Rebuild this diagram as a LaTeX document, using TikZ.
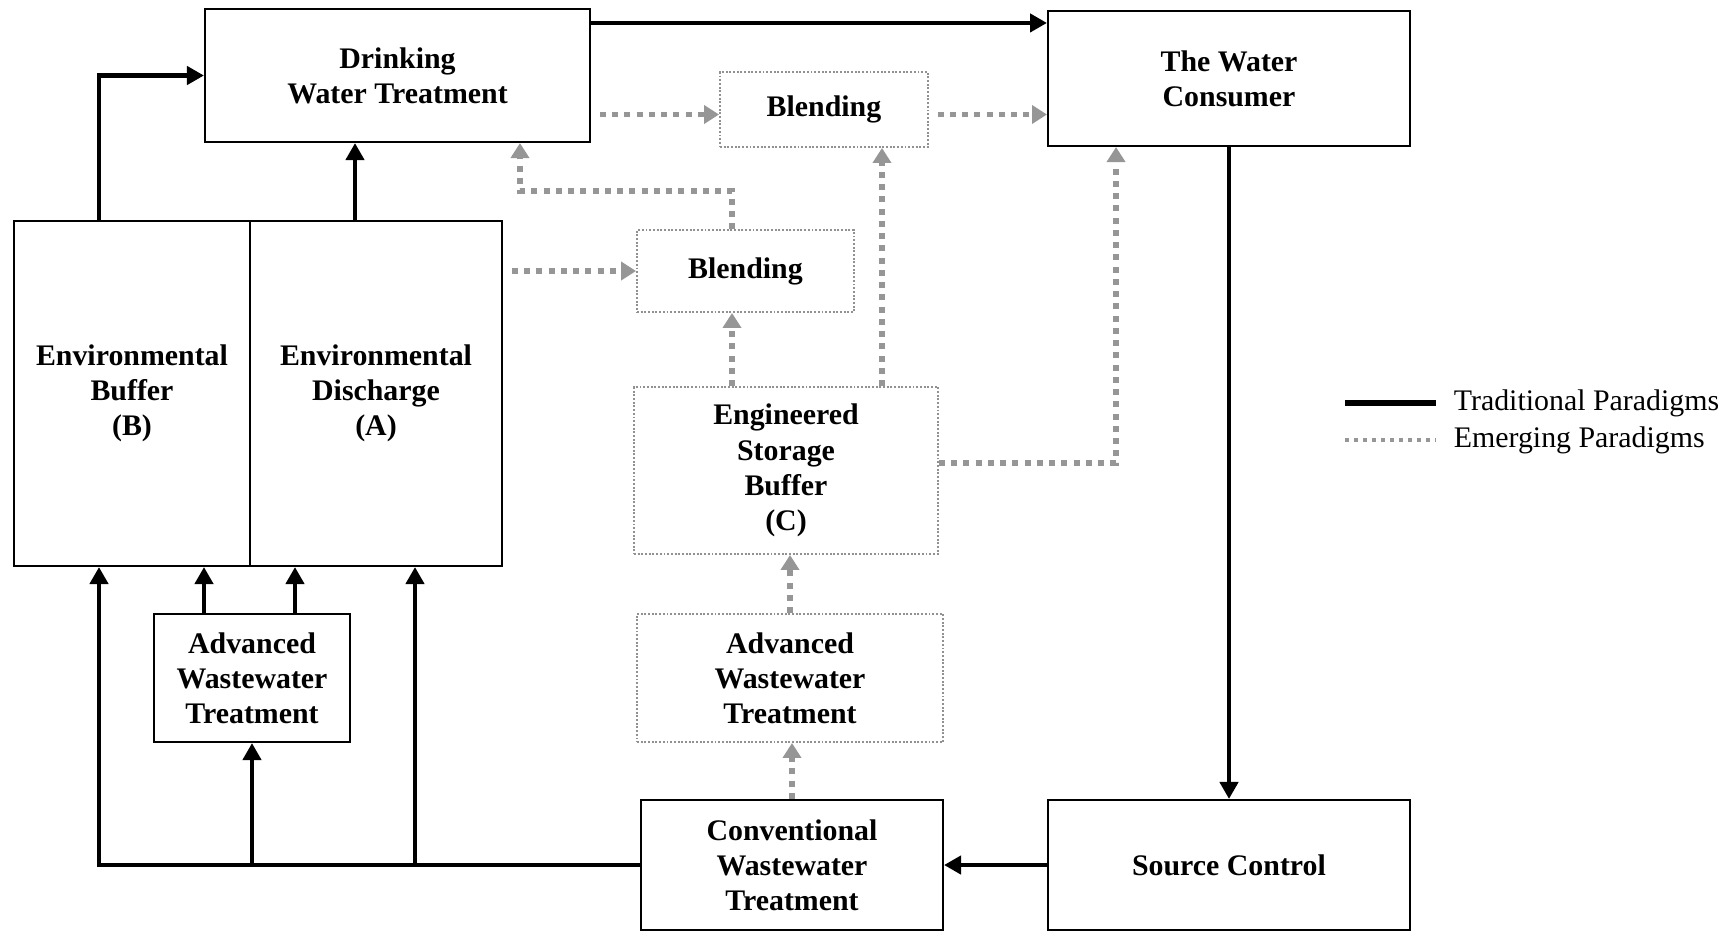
\documentclass[tikz,border=0pt]{standalone}
\usepackage{fontspec}
\setmainfont{Liberation Serif}
\usepackage{xcolor}
\usepackage{tikz}
\usetikzlibrary{arrows.meta, positioning}
\definecolor{emgray}{RGB}{150,150,150}
\definecolor{boxgray}{RGB}{145,145,145}

\begin{document}
\begin{tikzpicture}[
    x=0.02cm, y=-0.02cm,
    font=\fontsize{17}{20}\selectfont\bfseries,
    base/.style={align=center, inner sep=2pt, rectangle},
    proc/.style={base, draw=black, line width=1.2pt},
    emer/.style={base, draw=boxgray, line width=1.1pt, densely dotted},
    trad/.style={-{Triangle[length=0.34cm, width=0.36cm]}, line width=2.7pt, black},
    emarr/.style={-{Triangle[length=0.3cm, width=0.36cm]}, line width=3.4pt, emgray, dash pattern=on 0.12cm off 0.125cm},
    legtxt/.style={anchor=west, inner sep=2pt, font=\fontsize{17}{20}\selectfont\mdseries}
]
\useasboundingbox (0,0) rectangle (1736,931);

% 1. Treatment and consumer row
\node[proc, minimum width=7.7cm, minimum height=2.66cm] (dwt) at (397.5,75.5) {Drinking\\Water Treatment};
\node[proc, minimum width=7.24cm, minimum height=2.7cm] (consumer) at (1229,78.5) {The Water\\Consumer};
\node[emer, minimum width=4.16cm, minimum height=1.5cm] (blendA) at (824,109.5) {Blending};

% 2. Environmental buffers
\node[proc, minimum width=4.72cm, minimum height=6.9cm] (envB) at (132,393.5) {Environmental\\Buffer\\(B)};
\node[proc, minimum width=5.04cm, minimum height=6.9cm] (envA) at (376,393.5) {Environmental\\Discharge\\(A)};

% 3. Emerging pathway
\node[emer, minimum width=4.34cm, minimum height=1.64cm] (blendB) at (745.5,271) {Blending};
\node[emer, minimum width=6.08cm, minimum height=3.34cm] (storage) at (786,470.5) {Engineered\\Storage\\Buffer\\(C)};
\node[emer, minimum width=6.12cm, minimum height=2.56cm] (awtR) at (790,678) {Advanced\\Wastewater\\Treatment};

% 4. Wastewater row
\node[proc, minimum width=3.92cm, minimum height=2.56cm] (awtL) at (252,678) {Advanced\\Wastewater\\Treatment};
\node[proc, minimum width=6.04cm, minimum height=2.6cm] (cwt) at (792,865) {Conventional\\Wastewater\\Treatment};
\node[proc, minimum width=7.24cm, minimum height=2.6cm] (src) at (1229,865) {Source Control};

% Legend
\node[legtxt] (tradTxt) at (1450,403) {Traditional Paradigms};
\node[legtxt] (emerTxt) at (1450,440) {Emerging Paradigms};

% Connection points
\coordinate (bUp) at ([xshift=-0.66cm]envB.north);
\coordinate (aUp) at ([xshift=-0.42cm]envA.north);
\coordinate (dTop) at ([yshift=-0.3cm]dwt.north east);
\coordinate (dIn) at ([xshift=2.45cm]dwt.south);
\coordinate (blUp) at ([xshift=-0.27cm]blendB.north);
\coordinate (aDown) at ([xshift=1.16cm]blendA.south);
\coordinate (cIn) at ([xshift=-2.26cm]consumer.south);
\coordinate (busB) at ([xshift=-0.66cm]envB.south);
\coordinate (busA) at ([xshift=0.78cm]envA.south);

% Traditional connections
\draw[trad] (bUp) |- (dwt.west);
\draw[trad] (aUp) -- (aUp |- dwt.south);
\draw[trad] (dTop) -- (dTop -| consumer.west);
\draw[trad] (consumer.south) -- (src.north);
\draw[trad] (src.west) -- (cwt.east);
\draw[trad] (cwt.west) -| (busB);
\draw[trad] (awtL.south |- cwt.west) -- (awtL.south);
\draw[trad] (busA |- cwt.west) -- (busA);
\draw[trad] ([xshift=-0.96cm]awtL.north) -- ([xshift=-0.96cm]awtL.north |- envB.south);
\draw[trad] ([xshift=0.86cm]awtL.north) -- ([xshift=0.86cm]awtL.north |- envA.south);

% Emerging connections
\draw[emarr, shorten <=5pt] ([yshift=-0.1cm]blendA.west -| dwt.east) -- ([yshift=-0.1cm]blendA.west);
\draw[emarr, shorten <=5pt] ([yshift=-0.1cm]blendA.east) -- ([yshift=-0.1cm]blendA.east -| consumer.west);
\draw[emarr] (blUp) -- ++(0,-38) -| (dIn);
\draw[emarr, shorten <=5pt] (envA.east |- blendB.west) -- (blendB.west);
\draw[emarr] (blUp |- storage.north) -- (blUp |- blendB.south);
\draw[emarr] (aDown |- storage.north) -- (aDown);
\draw[emarr] ([yshift=0.15cm]storage.east) -| (cIn);
\draw[emarr] (awtR.north) -- (awtR.north |- storage.south);
\draw[emarr] (cwt.north) -- (cwt.north |- awtR.south);

% Legend lines
\draw[line width=3.4pt] ([xshift=-2.1cm]tradTxt.west) -- ([xshift=-0.28cm]tradTxt.west);
\draw[line width=2.4pt, emgray, dash pattern=on 0.08cm off 0.1cm] ([xshift=-2.1cm]emerTxt.west) -- ([xshift=-0.28cm]emerTxt.west);

\end{tikzpicture}
\end{document}
